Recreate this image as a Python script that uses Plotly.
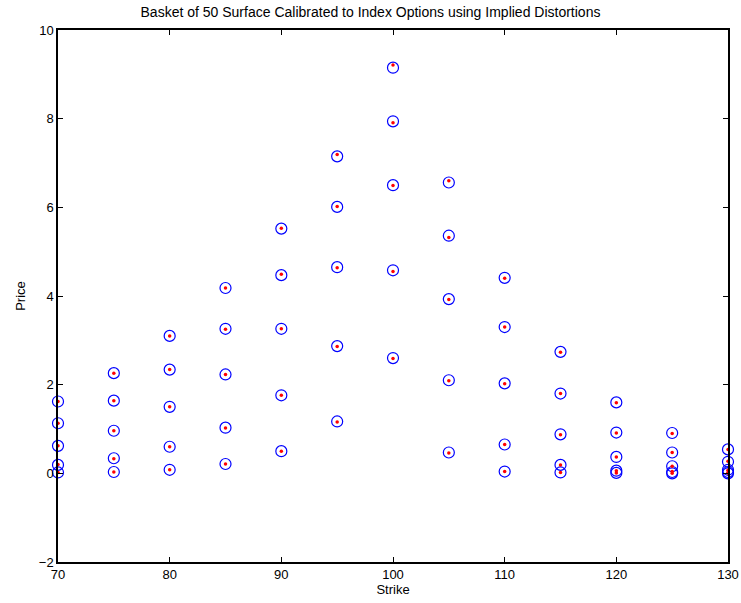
import plotly.graph_objects as go

strikes = [70, 75, 80, 85, 90, 95, 100, 105, 110, 115, 120, 125, 130]

# Model prices (blue circles), 5 maturities per strike
model_prices = [
    [1.62, 1.13, 0.62, 0.19, 0.02],
    [2.26, 1.64, 0.96, 0.34, 0.03],
    [3.10, 2.34, 1.50, 0.60, 0.08],
    [4.18, 3.26, 2.23, 1.03, 0.21],
    [5.52, 4.47, 3.26, 1.76, 0.50],
    [7.15, 6.01, 4.65, 2.87, 1.17],
    [9.15, 7.94, 6.50, 4.58, 2.60],
    [6.56, 5.36, 3.93, 2.10, 0.47],
    [4.41, 3.30, 2.03, 0.65, 0.04],
    [2.74, 1.80, 0.88, 0.19, 0.02],
    [1.60, 0.92, 0.37, 0.06, 0.01],
    [0.91, 0.47, 0.16, 0.03, 0.00],
    [0.54, 0.26, 0.08, 0.03, 0.00],
]

# Market prices (red dots)
market_prices = [
    [1.62, 1.13, 0.62, 0.20, 0.02],
    [2.26, 1.64, 0.96, 0.33, 0.03],
    [3.10, 2.34, 1.50, 0.60, 0.08],
    [4.18, 3.25, 2.23, 1.02, 0.21],
    [5.53, 4.49, 3.26, 1.76, 0.50],
    [7.19, 6.02, 4.64, 2.86, 1.16],
    [9.21, 7.91, 6.49, 4.55, 2.59],
    [6.60, 5.32, 3.92, 2.09, 0.46],
    [4.40, 3.30, 2.02, 0.65, 0.04],
    [2.73, 1.80, 0.87, 0.19, 0.02],
    [1.59, 0.91, 0.37, 0.06, 0.01],
    [0.90, 0.47, 0.16, 0.04, 0.00],
    [0.54, 0.27, 0.07, 0.02, 0.00],
]

title_text = "Basket of 50 Surface Calibrated to Index Options using Implied Distortions"
x_ticks = [70, 80, 90, 100, 110, 120, 130]
y_ticks = [-2, 0, 2, 4, 6, 8, 10]

mx, my, rx, ry = [], [], [], []
for k, vals in zip(strikes, model_prices):
    for v in vals:
        mx.append(k); my.append(v)
for k, vals in zip(strikes, market_prices):
    for v in vals:
        rx.append(k); ry.append(v)

fig = go.Figure()
fig.add_trace(go.Scatter(
    x=mx, y=my, mode="markers", name="Model",
    marker=dict(symbol="circle-open", size=11, color="#0000ff", line=dict(width=1.2, color="#0000ff")),
    cliponaxis=False,
))
fig.add_trace(go.Scatter(
    x=rx, y=ry, mode="markers", name="Market",
    marker=dict(symbol="circle", size=3.5, color="#ff0000", line=dict(width=0)),
    cliponaxis=False,
))

font_family = "Liberation Sans Narrow, Arial Narrow, Liberation Sans, Arial, sans-serif"

fig.update_layout(
    width=741, height=603,
    margin=dict(l=58, r=13, t=30, b=41, autoexpand=False),
    paper_bgcolor="white", plot_bgcolor="white",
    showlegend=False,
    font=dict(family=font_family, size=13, color="black"),
    title=dict(text=title_text, x=0.5, xanchor="center", y=0.988, yanchor="top",
               font=dict(size=14, family=font_family, color="black")),
)
fig.update_xaxes(
    range=[70, 130], tickvals=x_ticks, ticks="inside", ticklen=5, tickcolor="black",
    showgrid=False, zeroline=False, showline=True, linecolor="black", linewidth=1.5, mirror="ticks",
    automargin=False,
    title=dict(text="Strike", standoff=3, font=dict(size=13)), tickfont=dict(size=13),
)
fig.update_yaxes(
    range=[-2, 10], tickvals=y_ticks, ticks="inside", ticklen=5, tickcolor="black",
    showgrid=False, zeroline=False, showline=True, linecolor="black", linewidth=1.5, mirror="ticks",
    automargin=False,
    title=dict(text="Price", standoff=10, font=dict(size=13)), tickfont=dict(size=13),
)

fig.write_html(
    "out.html",
    config={"displayModeBar": False},
    post_script="document.body.style.margin='0';document.body.style.overflow='hidden';",
)
